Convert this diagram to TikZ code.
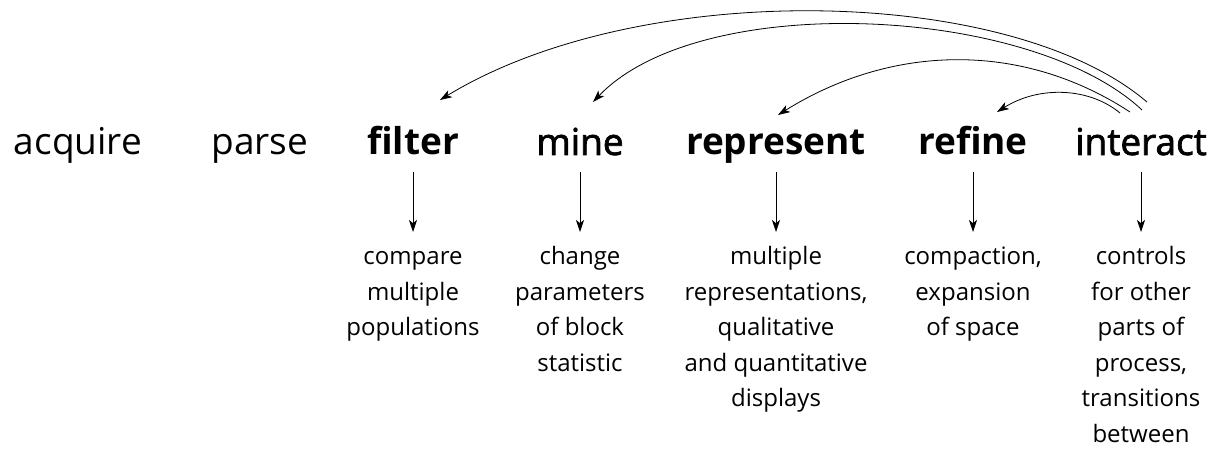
\documentclass[tikz,border=0pt]{standalone}
\usepackage{fontspec}
\setmainfont{Open Sans}
\newfontface\medfont[FakeBold=2]{Open Sans}
\usetikzlibrary{arrows.meta}
\tikzset{
  stage/.style={anchor=base, inner sep=0pt, text depth=5pt, outer sep=3.5pt, font=\fontsize{18.5}{22}\selectfont},
  note/.style={anchor=north, align=center, inner sep=0pt, outer sep=4pt,
    font=\fontsize{12}{17.75}\selectfont},
  tip/.style={thin, -{Stealth[length=6pt, width=4pt, inset=1.6pt]}},
}
\begin{document}
\begin{tikzpicture}[x=0.5pt, y=-0.5pt]
  \useasboundingbox (0,0) rectangle (1228,449);
  % stages
  \node[stage] (acquire) at (78,155) {acquire};
  \node[stage] (parse) at (260,155) {parse};
  \node[stage] (filter) at (413,155) {\bfseries filter};
  \node[stage] (mine) at (580,155) {\medfont mine};
  \node[stage] (represent) at (776,155) {\bfseries represent};
  \node[stage] (refine) at (973,155) {\bfseries refine};
  \node[stage] (interact) at (1141,155) {\medfont interact};
  % notes
  \node[note] (filter-d) at (413,232) {\strut compare\\multiple\\populations};
  \node[note] (mine-d) at (580,232) {\strut change\\parameters\\of block\\statistic};
  \node[note] (represent-d) at (776,232) {\strut multiple\\representations,\\qualitative\\and quantitative\\displays};
  \node[note] (refine-d) at (973,232) {\strut compaction,\\expansion\\of space};
  \node[note] (interact-d) at (1141,232) {\strut controls\\for other\\parts of\\process,\\transitions\\between};
  \foreach \s in {filter,mine,represent,refine,interact} \draw[tip] (\s) -- (\s-d);
  % feedback from interact
  \coordinate (out1) at ([shift={(6,-53)}]interact.base);
  \coordinate (out2) at ([shift={(1,-45)}]interact.base);
  \coordinate (out3) at ([shift={(-11,-43)}]interact.base);
  \coordinate (out4) at ([shift={(-21,-42)}]interact.base);
  \coordinate (filter-in) at ([shift={(27,-55)}]filter.base);
  \coordinate (mine-in) at ([shift={(13,-53)}]mine.base);
  \coordinate (represent-in) at ([shift={(2,-40)}]represent.base);
  \coordinate (refine-in) at ([shift={(24,-43)}]refine.base);
  \draw[tip] (out1) .. controls (1010,-15) and (640,-22) .. (filter-in);
  \draw[tip] (out2) .. controls (1030,5) and (700,-10) .. (mine-in);
  \draw[tip] (out3) .. controls (1020,40) and (890,45) .. (represent-in);
  \draw[tip] (out4) .. controls (1090,88) and (1040,85) .. (refine-in);
\end{tikzpicture}
\end{document}
